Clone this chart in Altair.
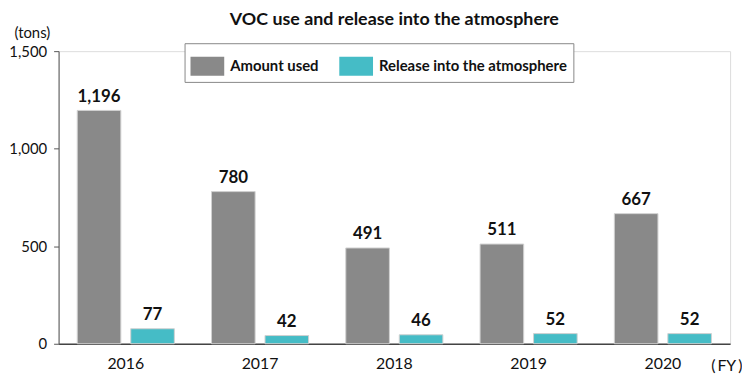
import altair as alt
import pandas as pd

years = ["2016", "2017", "2018", "2019", "2020"]
amount_used = [1196, 780, 491, 511, 667]
released = [77, 42, 46, 52, 52]
series = ["Amount used", "Release into the atmosphere"]
colors = ["#898989", "#45BCC6"]

rows = []
for i, y in enumerate(years):
    rows.append({"year": y, "series": series[0], "value": amount_used[i]})
    rows.append({"year": y, "series": series[1], "value": released[i]})
df = pd.DataFrame(rows)

FONT = "Lato"

x = alt.X("year:N", sort=years,
          scale=alt.Scale(paddingInner=0.277, paddingOuter=0.139),
          axis=alt.Axis(title="(\u2009FY\u2009)", labelAngle=0, ticks=False, labelPadding=12,
                        labelFontSize=16, labelColor="#111", labelFont=FONT,
                        domainColor="#444", domainWidth=1.5,
                        titleFont=FONT, titleFontSize=16, titleFontWeight="normal",
                        titleColor="#111", titleAnchor="end", titleAlign="right",
                        titleBaseline="alphabetic", titleX=689, titleY=27))
xo = alt.XOffset("series:N", sort=series,
                 scale=alt.Scale(paddingInner=0.185, paddingOuter=0))
y = alt.Y("value:Q",
          scale=alt.Scale(domain=[0, 1500], nice=False),
          axis=alt.Axis(values=[0, 500, 1000, 1500], format=",d", grid=False,
                        title="(tons)", titleAngle=0, titleAlign="left",
                        titleBaseline="alphabetic", titleX=-45, titleY=-14,
                        titleFont=FONT, titleFontSize=15, titleFontWeight="normal",
                        titleColor="#111", labelFont=FONT, labelFontSize=15,
                        labelColor="#111", tickSize=5, tickColor="#555",
                        domainColor="#555", labelPadding=7))
color = alt.Color("series:N", sort=series,
                  scale=alt.Scale(domain=series, range=colors),
                  legend=alt.Legend(title=None, orient="none", direction="horizontal",
                                    legendX=127, legendY=-8,
                                    symbolType="M-1,-0.56L1,-0.56L1,0.56L-1,0.56Z",
                                    symbolSize=1156, symbolStrokeWidth=0,
                                    symbolOpacity=1, labelLimit=400,
                                    labelFont=FONT, labelFontSize=15, labelFontWeight="bold",
                                    labelColor="#111", columnPadding=20,
                                    strokeColor="#888", fillColor="white",
                                    padding=6, labelOffset=6))

base = alt.Chart(df).encode(x=x, xOffset=xo, y=y)
bars = base.mark_bar(stroke="#d0d0d0", strokeWidth=1).encode(color=color)
labels = base.mark_text(dy=-5, baseline="bottom", fontSize=17, fontWeight="bold",
                        font=FONT, color="#111").encode(
    text=alt.Text("value:Q", format=",d"))

chart = (bars + labels).properties(
    width=677, height=295,
    padding={"top": 2, "left": 0, "right": 0, "bottom": 0},
    title=alt.TitleParams("VOC use and release into the atmosphere", font=FONT,
                          fontSize=18, fontWeight="bold", color="#111",
                          anchor="middle", offset=-4),
).configure_view(stroke=None).configure(background="white")

chart.save("out.html", embed_options={"renderer": "svg", "actions": False})
